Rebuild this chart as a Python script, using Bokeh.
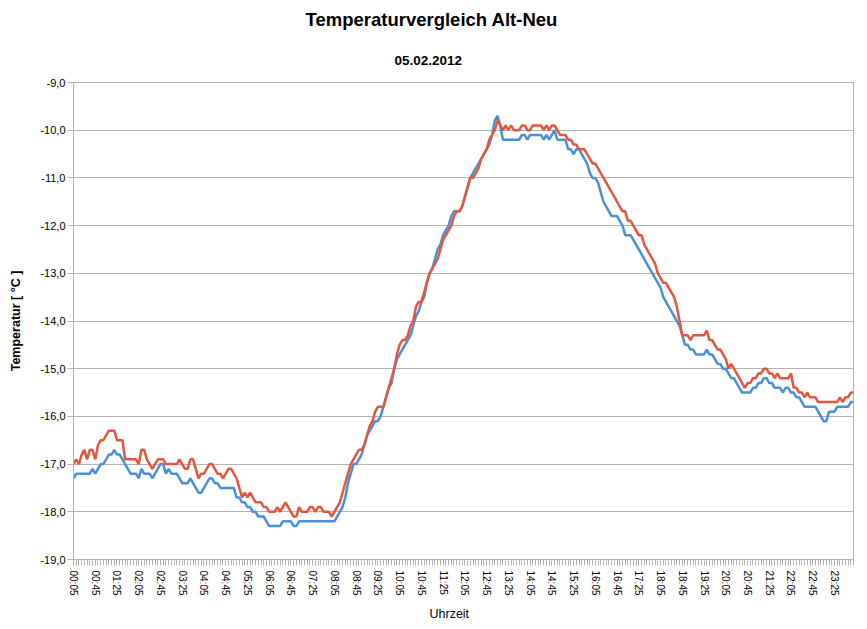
import math
from bokeh.plotting import figure
from bokeh.models import FixedTicker, Range1d, Title
from bokeh.embed import file_html
from bokeh.resources import INLINE

# time axis: one value every 5 minutes, 00:05 ... 24:00 (minutes of the day)
minutes = list(range(5, 1441, 5))

# red series (one row = one hour, 12 readings)
temp_red = [
    -17.0, -16.9, -17.0, -16.8, -16.7, -16.9, -16.7, -16.7, -16.9, -16.6, -16.5, -16.5,
    -16.4, -16.3, -16.3, -16.3, -16.5, -16.5, -16.5, -16.9, -16.9, -16.9, -16.9, -16.9,
    -17.0, -16.7, -16.7, -16.9, -17.0, -17.1, -17.0, -16.9, -16.9, -16.9, -17.0, -17.0,
    -17.0, -17.0, -17.0, -16.9, -17.0, -17.1, -17.1, -16.9, -16.9, -17.1, -17.3, -17.2,
    -17.2, -17.1, -17.0, -17.0, -17.1, -17.2, -17.2, -17.3, -17.2, -17.1, -17.1, -17.2,
    -17.3, -17.5, -17.7, -17.6, -17.7, -17.6, -17.7, -17.8, -17.8, -17.8, -17.9, -17.9,
    -18.0, -18.0, -18.0, -17.9, -18.0, -17.9, -17.8, -17.9, -18.0, -18.1, -18.1, -17.9,
    -18.0, -18.0, -18.0, -17.9, -17.9, -18.0, -17.9, -17.9, -18.0, -18.0, -18.0, -18.1,
    -18.0, -17.9, -17.8, -17.6, -17.4, -17.2, -17.0, -16.9, -16.8, -16.7, -16.7, -16.6,
    -16.4, -16.2, -16.1, -15.9, -15.8, -15.8, -15.8, -15.6, -15.4, -15.2, -15.0, -14.7,
    -14.5, -14.4, -14.4, -14.3, -14.1, -14.0, -13.7, -13.6, -13.6, -13.4, -13.2, -13.0,
    -12.9, -12.8, -12.7, -12.5, -12.3, -12.2, -12.1, -12.0, -11.8, -11.7, -11.7, -11.6,
    -11.4, -11.2, -11.0, -11.0, -10.9, -10.8, -10.6, -10.5, -10.4, -10.2, -10.1, -10.0,
    -9.8, -9.9, -10.0, -9.9, -10.0, -9.9, -10.0, -10.0, -10.0, -9.9, -9.9, -10.0,
    -10.0, -9.9, -9.9, -9.9, -9.9, -10.0, -9.9, -10.0, -9.9, -9.9, -10.0, -10.1,
    -10.1, -10.1, -10.2, -10.2, -10.3, -10.3, -10.4, -10.4, -10.4, -10.5, -10.6, -10.7,
    -10.7, -10.8, -10.9, -11.0, -11.1, -11.2, -11.3, -11.4, -11.5, -11.6, -11.7, -11.7,
    -11.9, -11.9, -12.0, -12.1, -12.2, -12.2, -12.4, -12.5, -12.6, -12.7, -12.8, -13.0,
    -13.1, -13.2, -13.2, -13.3, -13.4, -13.5, -13.7, -14.0, -14.3, -14.3, -14.3, -14.4,
    -14.3, -14.3, -14.3, -14.3, -14.3, -14.2, -14.4, -14.4, -14.5, -14.6, -14.6, -14.7,
    -14.8, -15.0, -14.9, -15.0, -15.1, -15.2, -15.3, -15.4, -15.3, -15.3, -15.2, -15.2,
    -15.1, -15.1, -15.0, -15.0, -15.1, -15.1, -15.2, -15.1, -15.2, -15.2, -15.2, -15.2,
    -15.1, -15.4, -15.4, -15.5, -15.5, -15.6, -15.5, -15.6, -15.6, -15.6, -15.7, -15.7,
    -15.7, -15.7, -15.7, -15.7, -15.7, -15.7, -15.6, -15.7, -15.6, -15.6, -15.5, -15.5,
]

# blue series
temp_blue = [
    -17.3, -17.2, -17.2, -17.2, -17.2, -17.2, -17.2, -17.1, -17.2, -17.1, -17.0, -17.0,
    -16.9, -16.8, -16.8, -16.7, -16.8, -16.8, -16.9, -17.0, -17.1, -17.2, -17.2, -17.2,
    -17.3, -17.1, -17.2, -17.2, -17.2, -17.3, -17.2, -17.1, -17.0, -17.0, -17.2, -17.1,
    -17.2, -17.2, -17.2, -17.3, -17.4, -17.4, -17.4, -17.3, -17.4, -17.5, -17.6, -17.6,
    -17.5, -17.4, -17.3, -17.3, -17.4, -17.4, -17.5, -17.5, -17.5, -17.5, -17.5, -17.5,
    -17.7, -17.7, -17.8, -17.8, -17.9, -17.9, -18.0, -18.0, -18.1, -18.1, -18.1, -18.2,
    -18.3, -18.3, -18.3, -18.3, -18.3, -18.2, -18.2, -18.2, -18.2, -18.3, -18.3, -18.2,
    -18.2, -18.2, -18.2, -18.2, -18.2, -18.2, -18.2, -18.2, -18.2, -18.2, -18.2, -18.2,
    -18.2, -18.1, -18.0, -17.9, -17.7, -17.4, -17.2, -17.0, -17.0, -16.9, -16.8, -16.6,
    -16.4, -16.3, -16.2, -16.1, -16.1, -16.0, -15.8, -15.6, -15.4, -15.3, -15.0, -14.8,
    -14.7, -14.6, -14.5, -14.4, -14.3, -14.1, -13.9, -13.8, -13.6, -13.5, -13.2, -13.0,
    -12.9, -12.7, -12.5, -12.4, -12.2, -12.1, -12.0, -11.8, -11.7, -11.7, -11.7, -11.6,
    -11.4, -11.2, -11.0, -10.9, -10.8, -10.7, -10.6, -10.5, -10.4, -10.3, -10.1, -9.8,
    -9.7, -9.9, -10.2, -10.2, -10.2, -10.2, -10.2, -10.2, -10.2, -10.1, -10.1, -10.2,
    -10.1, -10.1, -10.1, -10.1, -10.1, -10.2, -10.1, -10.2, -10.1, -10.0, -10.2, -10.2,
    -10.2, -10.2, -10.4, -10.4, -10.5, -10.4, -10.4, -10.5, -10.6, -10.7, -10.9, -11.0,
    -11.0, -11.1, -11.3, -11.5, -11.6, -11.7, -11.8, -11.8, -11.8, -11.9, -12.0, -12.2,
    -12.2, -12.2, -12.3, -12.4, -12.5, -12.6, -12.7, -12.8, -12.9, -13.0, -13.1, -13.2,
    -13.3, -13.5, -13.6, -13.7, -13.8, -13.9, -14.0, -14.1, -14.3, -14.5, -14.5, -14.6,
    -14.6, -14.7, -14.7, -14.7, -14.7, -14.6, -14.7, -14.7, -14.8, -14.9, -14.9, -15.0,
    -15.0, -15.1, -15.2, -15.2, -15.3, -15.4, -15.5, -15.5, -15.5, -15.5, -15.4, -15.4,
    -15.3, -15.3, -15.2, -15.2, -15.3, -15.3, -15.4, -15.4, -15.4, -15.5, -15.4, -15.4,
    -15.5, -15.5, -15.6, -15.6, -15.7, -15.8, -15.8, -15.8, -15.8, -15.8, -15.9, -16.0,
    -16.1, -16.1, -15.9, -15.9, -15.9, -15.8, -15.8, -15.8, -15.8, -15.8, -15.7, -15.7,
]

# x tick labels (every 40 minutes starting at 00:05)
x_tick_labels = ["00:05", "00:45", "01:25", "02:05", "02:45", "03:25", "04:05", "04:45",
                 "05:25", "06:05", "06:45", "07:25", "08:05", "08:45", "09:25", "10:05",
                 "10:45", "11:25", "12:05", "12:45", "13:25", "14:05", "14:45", "15:25",
                 "16:05", "16:45", "17:25", "18:05", "18:45", "19:25", "20:05", "20:45",
                 "21:25", "22:05", "22:45", "23:25"]
x_tick_pos = minutes[::8]

y_ticks = [-19, -18, -17, -16, -15, -14, -13, -12, -11, -10, -9]
y_tick_labels = ["-19,0", "-18,0", "-17,0", "-16,0", "-15,0", "-14,0", "-13,0",
                 "-12,0", "-11,0", "-10,0", "-9,0"]

FONT = "Liberation Sans"
GRID = "#b3b3b3"
RED = "#e4573f"
BLUE = "#4a8fd8"

p = figure(width=867, height=629, x_range=Range1d(5, 1440), y_range=Range1d(-19, -9),
           output_backend="svg", toolbar_location=None, title=None,
           min_border_left=73, min_border_right=14, min_border_top=81, min_border_bottom=70)
p.background_fill_color = "white"
p.border_fill_color = "white"
p.outline_line_color = GRID
p.outline_line_width = 1

# axes
xa = p.xaxis[0]
xa.ticker = FixedTicker(ticks=x_tick_pos, minor_ticks=minutes)
xa.major_label_overrides = {t: l for t, l in zip(x_tick_pos, x_tick_labels)}
xa.major_label_orientation = -math.pi / 2
xa.major_label_text_font = FONT
xa.major_label_text_font_size = "10px"
xa.major_label_text_color = "black"
xa.major_label_standoff = 5
xa.axis_line_color = GRID
xa.major_tick_line_color = GRID
xa.minor_tick_line_color = GRID
xa.major_tick_in = 0
xa.major_tick_out = 6
xa.minor_tick_in = 0
xa.minor_tick_out = 6

ya = p.yaxis[0]
ya.ticker = FixedTicker(ticks=y_ticks, minor_ticks=[])
ya.major_label_overrides = {t: l for t, l in zip(y_ticks, y_tick_labels)}
ya.major_label_text_font = FONT
ya.major_label_text_font_size = "11px"
ya.major_label_text_color = "black"
ya.major_label_standoff = 2
ya.axis_line_color = GRID
ya.major_tick_line_color = GRID
ya.major_tick_in = 0
ya.major_tick_out = 6
ya.axis_label = "Temperatur [ °C ]"
ya.axis_label_text_font = FONT
ya.axis_label_text_font_size = "12.5px"
ya.axis_label_text_font_style = "bold"
ya.axis_label_text_color = "black"
ya.axis_label_standoff = 14

p.xgrid.grid_line_color = None
p.ygrid.grid_line_color = GRID
p.ygrid.grid_line_width = 1

p.line(minutes, temp_blue, line_color=BLUE, line_width=2.5)
p.line(minutes, temp_red, line_color=RED, line_width=2.5)

# titles (later added = further from the frame)
p.add_layout(Title(text="05.02.2012", align="left", offset=321, standoff=36,
                   text_font=FONT, text_font_size="13.5px", text_font_style="bold",
                   text_color="black"), "above")
p.add_layout(Title(text="Temperaturvergleich Alt-Neu", align="left", offset=232, standoff=12,
                   text_font=FONT, text_font_size="18.5px", text_font_style="bold",
                   text_color="black"), "above")
p.add_layout(Title(text="Uhrzeit", align="left", offset=356, standoff=13,
                   text_font=FONT, text_font_size="12.5px", text_font_style="normal",
                   text_color="black"), "below")

open("out.html", "w").write(file_html(p, INLINE))
